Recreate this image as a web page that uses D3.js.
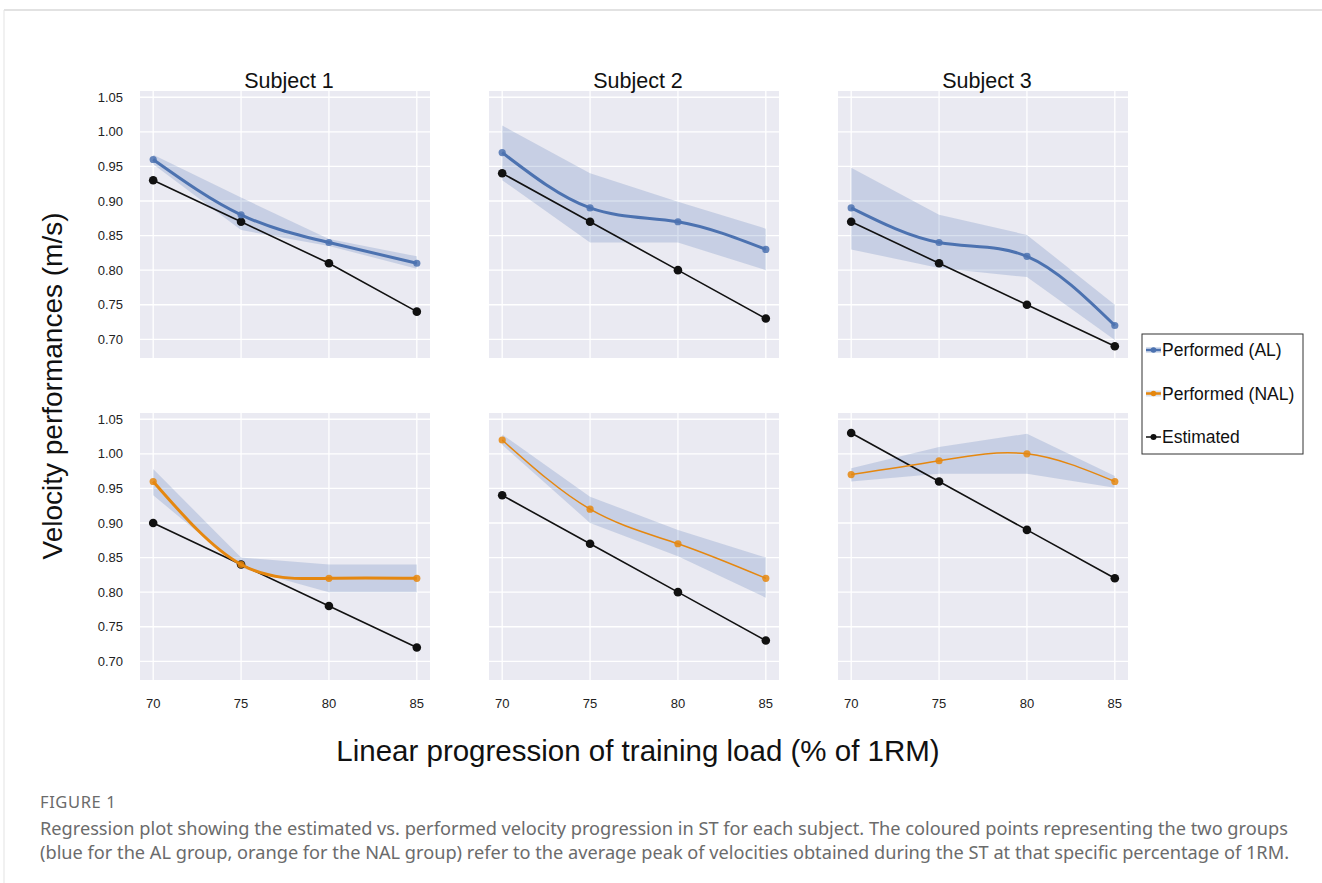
<!DOCTYPE html>
<html>
<head>
<meta charset="utf-8">
<script src="https://cdn.jsdelivr.net/npm/d3@7"></script>
<style>
  body { margin: 0; background: #fff; }
  svg { display: block; font-family: "Liberation Sans", Arial, sans-serif; }
</style>
</head>
<body>
<svg id="chart" width="1322" height="883"></svg>
<script>
const loads = [70, 75, 80, 85];
const subjects = ["Subject 1", "Subject 2", "Subject 3"];
const yTicks = [0.70, 0.75, 0.80, 0.85, 0.90, 0.95, 1.00, 1.05];

// top row: AL group
const estimatedAL = [[0.93, 0.87, 0.81, 0.74], [0.94, 0.87, 0.80, 0.73], [0.87, 0.81, 0.75, 0.69]];
const performedAL = [[0.96, 0.88, 0.84, 0.81], [0.97, 0.89, 0.87, 0.83], [0.89, 0.84, 0.82, 0.72]];
const upperAL = [[0.967, 0.905, 0.845, 0.82], [1.009, 0.94, 0.899, 0.86], [0.948, 0.88, 0.851, 0.75]];
const lowerAL = [[0.953, 0.858, 0.835, 0.802], [0.93, 0.84, 0.84, 0.80], [0.83, 0.803, 0.79, 0.699]];

// bottom row: NAL group
const estimatedNAL = [[0.90, 0.84, 0.78, 0.72], [0.94, 0.87, 0.80, 0.73], [1.03, 0.96, 0.89, 0.82]];
const performedNAL = [[0.96, 0.84, 0.82, 0.82], [1.02, 0.92, 0.87, 0.82], [0.97, 0.99, 1.00, 0.96]];
const upperNAL = [[0.978, 0.85, 0.84, 0.84], [1.028, 0.938, 0.89, 0.85], [0.979, 1.01, 1.029, 0.968]];
const lowerNAL = [[0.94, 0.835, 0.80, 0.80], [1.013, 0.90, 0.852, 0.792], [0.96, 0.971, 0.971, 0.951]];

const legendLabels = ["Performed (AL)", "Performed (NAL)", "Estimated"];

const blue = "#4c72b0", orange = "#e5870f", bandColor = "#4c72b0", panelBg = "#eaeaf2";
const colX = [140, 489, 838], rowY = [91, 413];
const pw = 290, ph = 267;

const svg = d3.select("#chart");

// page frame lines
svg.append("line").attr("x1", 4).attr("x2", 1322).attr("y1", 10).attr("y2", 10)
    .attr("stroke", "#d9d9d9").attr("stroke-width", 1.5);
svg.append("line").attr("x1", 4).attr("x2", 4).attr("y1", 10).attr("y2", 883)
    .attr("stroke", "#e3e3e3").attr("stroke-width", 1);

const x = d3.scaleLinear().domain([69.25, 85.75]).range([0, pw]);
const y = d3.scaleLinear().domain([0.673, 1.059]).range([ph, 0]);

const rows = [
    { est: estimatedAL, perf: performedAL, up: upperAL, lo: lowerAL, color: blue, widths: [3, 3, 3] },
    { est: estimatedNAL, perf: performedNAL, up: upperNAL, lo: lowerNAL, color: orange, widths: [3, 1.5, 1.5] }
];

rows.forEach(function (row, r) {
    subjects.forEach(function (name, c) {
        const g = svg.append("g").attr("transform", `translate(${colX[c]},${rowY[r]})`);

        g.append("rect").attr("width", pw).attr("height", ph).attr("fill", panelBg);

        g.selectAll(".gy").data(yTicks).enter().append("line")
            .attr("x1", 0).attr("x2", pw)
            .attr("y1", d => y(d)).attr("y2", d => y(d))
            .attr("stroke", "#fff").attr("stroke-width", 1.3);
        g.selectAll(".gx").data(loads).enter().append("line")
            .attr("y1", 0).attr("y2", ph)
            .attr("x1", d => x(d)).attr("x2", d => x(d))
            .attr("stroke", "#fff").attr("stroke-width", 1.3);

        const band = loads.map((l, i) => ({ x: l, lo: row.lo[c][i], hi: row.up[c][i] }));
        g.append("path").datum(band)
            .attr("d", d3.area().x(d => x(d.x)).y0(d => y(d.lo)).y1(d => y(d.hi)))
            .attr("fill", bandColor).attr("fill-opacity", 0.22);

        const est = loads.map((l, i) => ({ x: l, v: row.est[c][i] }));
        const perf = loads.map((l, i) => ({ x: l, v: row.perf[c][i] }));

        g.append("path").datum(est)
            .attr("d", d3.line().x(d => x(d.x)).y(d => y(d.v)))
            .attr("fill", "none").attr("stroke", "#111").attr("stroke-width", 1.6);
        g.selectAll(".pe").data(est).enter().append("circle")
            .attr("cx", d => x(d.x)).attr("cy", d => y(d.v)).attr("r", 4.3)
            .attr("fill", "#111");

        g.append("path").datum(perf)
            .attr("d", d3.line().curve(d3.curveNatural).x(d => x(d.x)).y(d => y(d.v)))
            .attr("fill", "none").attr("stroke", row.color).attr("stroke-width", row.widths[c]);
        g.selectAll(".pp").data(perf).enter().append("circle")
            .attr("cx", d => x(d.x)).attr("cy", d => y(d.v)).attr("r", 3.6)
            .attr("fill", row.color).attr("fill-opacity", 0.85);

        if (c === 0) {
            g.selectAll(".ty").data(yTicks).enter().append("text")
                .attr("x", -17).attr("y", d => y(d)).attr("dy", "0.35em")
                .attr("text-anchor", "end").attr("font-size", 13).attr("fill", "#222")
                .text(d => d.toFixed(2));
        }
        if (r === 1) {
            g.selectAll(".tx").data(loads).enter().append("text")
                .attr("x", d => x(d)).attr("y", ph + 28)
                .attr("text-anchor", "middle").attr("font-size", 13).attr("fill", "#222")
                .text(d => d);
        }
        if (r === 0) {
            g.append("text").attr("x", pw / 2 + 4).attr("y", -3)
                .attr("text-anchor", "middle").attr("font-size", 21.5).attr("fill", "#111")
                .text(name);
        }
    });
});

// axis titles
svg.append("text").attr("transform", "translate(62,386) rotate(-90)")
    .attr("text-anchor", "middle").attr("font-size", 28).attr("fill", "#111")
    .text("Velocity performances (m/s)");
svg.append("text").attr("x", 638).attr("y", 761)
    .attr("text-anchor", "middle").attr("font-size", 29.5).attr("fill", "#111")
    .text("Linear progression of training load (% of 1RM)");

// legend
const lg = svg.append("g").attr("transform", "translate(1142,334)");
lg.append("rect").attr("width", 161).attr("height", 120)
    .attr("fill", "#fff").attr("stroke", "#333").attr("stroke-width", 1);
const legendColors = [blue, orange, "#111"];
legendLabels.forEach(function (lab, i) {
    const yy = 16 + i * 43.5;
    if (i < 2) {
        lg.append("rect").attr("x", 4).attr("y", yy - 3).attr("width", 15).attr("height", 6)
            .attr("fill", bandColor).attr("fill-opacity", 0.22);
    }
    lg.append("line").attr("x1", 4).attr("x2", 19).attr("y1", yy).attr("y2", yy)
        .attr("stroke", legendColors[i]).attr("stroke-width", i < 2 ? 2.5 : 1.5);
    lg.append("circle").attr("cx", 11.5).attr("cy", yy).attr("r", i < 2 ? 2.8 : 3)
        .attr("fill", legendColors[i]);
    lg.append("text").attr("x", 20).attr("y", yy).attr("dy", "0.35em")
        .attr("font-size", 17.5).attr("fill", "#111").text(lab);
});

// caption
const cap = svg.append("g").attr("font-family", "'Noto Sans', 'Open Sans', sans-serif").attr("fill", "#6b6b6b");
cap.append("text").attr("x", 40).attr("y", 808).attr("font-size", 16.5).attr("letter-spacing", 0.6)
    .text("FIGURE 1");
cap.append("text").attr("x", 40).attr("y", 835).attr("font-size", 18.2)
    .text("Regression plot showing the estimated vs. performed velocity progression in ST for each subject. The coloured points representing the two groups");
cap.append("text").attr("x", 40).attr("y", 859).attr("font-size", 18.2)
    .text("(blue for the AL group, orange for the NAL group) refer to the average peak of velocities obtained during the ST at that specific percentage of 1RM.");
</script>
</body>
</html>
